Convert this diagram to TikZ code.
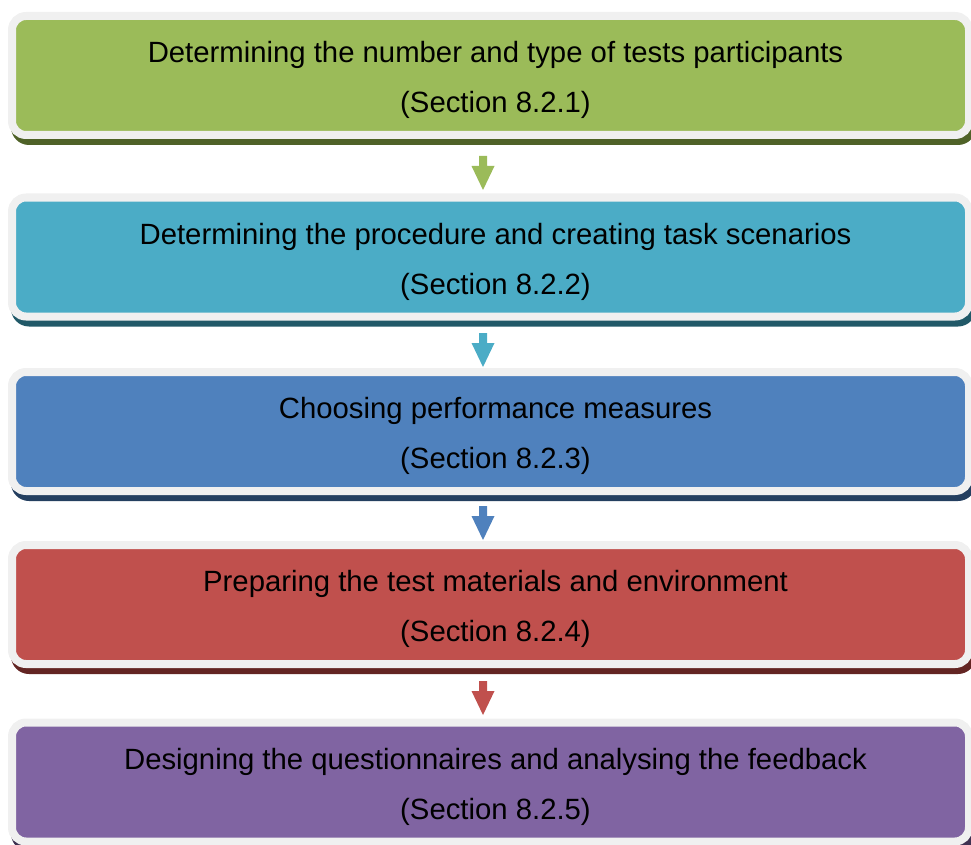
\documentclass[tikz,border=0pt]{standalone}
\usepackage{fontspec}
\setmainfont{Liberation Sans}
\definecolor{framegrey}{HTML}{F0F0F0}
\definecolor{cgreen}{HTML}{9BBB59}\definecolor{dgreen}{HTML}{4F6228}
\definecolor{cteal}{HTML}{4BACC6}\definecolor{dteal}{HTML}{215968}
\definecolor{cblue}{HTML}{4F81BD}\definecolor{dblue}{HTML}{243F60}
\definecolor{cred}{HTML}{C0504D}\definecolor{dred}{HTML}{632523}
\definecolor{cpurple}{HTML}{8064A2}\definecolor{dpurple}{HTML}{3F3151}
\newcommand\mkstepbox[6]{%
  \fill[#4, rounded corners=18pt] (11,#2-57.5) rectangle (976,#2+69.5);
  \node[stepbox, fill=#3] (#1) at (490.5,#2) {};
  \node[boxtext] (#1a) at (495.5,#2-13) {#5};
  \node[boxtext] (#1b) at (495.5,#2+37) {#6};
}
\newcommand\mkblockarrow[3]{%
  \coordinate (#1) at (483,#2);
  \fill[#3] (479,#2) -- (487,#2) -- (487,#2+10) -- (494.5,#2+10) -- (483,#2+34)
     -- (471.5,#2+10) -- (479,#2+10) -- cycle;
}
\begin{document}
\begin{tikzpicture}[x=1pt,y=-1pt,
  stepbox/.style={draw=framegrey, line width=8pt, rounded corners=14pt,
    minimum width=957pt, minimum height=119pt, inner sep=0pt},
  boxtext/.style={anchor=base, font=\fontsize{29.3}{30}\selectfont, text=black, inner sep=0pt}]
\useasboundingbox (0,0) rectangle (971,845);
\mkstepbox{b1}{75.5}{cgreen}{dgreen}{Determining the number and type of tests participants}{(Section 8.2.1)}
\mkstepbox{b2}{257}{cteal}{dteal}{Determining the procedure and creating task scenarios}{(Section 8.2.2)}
\mkstepbox{b3}{431.5}{cblue}{dblue}{Choosing performance measures}{(Section 8.2.3)}
\mkstepbox{b4}{604.5}{cred}{dred}{Preparing the test materials and environment}{(Section 8.2.4)}
\mkstepbox{b5}{782}{cpurple}{dpurple}{Designing the questionnaires and analysing the feedback}{(Section 8.2.5)}
\mkblockarrow{a1}{156}{cgreen}
\mkblockarrow{a2}{333}{cteal}
\mkblockarrow{a3}{506}{cblue}
\mkblockarrow{a4}{681}{cred}
\end{tikzpicture}
\end{document}
